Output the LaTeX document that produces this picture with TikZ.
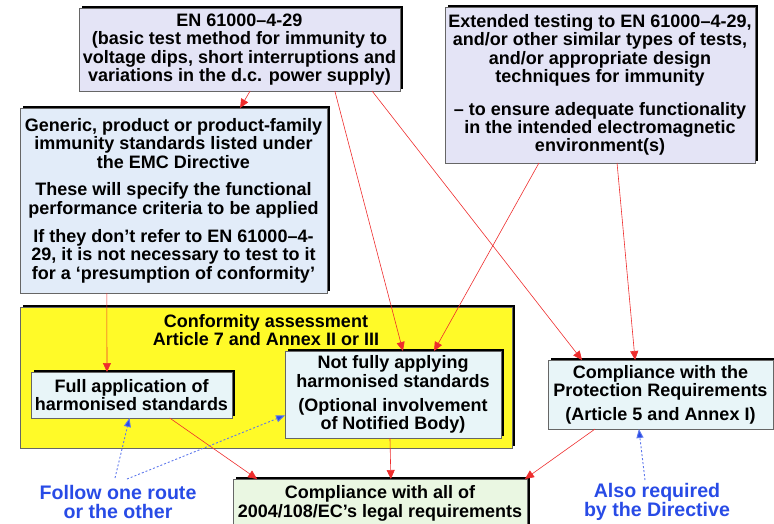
\documentclass[tikz,border=0pt]{standalone}
\usepackage{fontspec}
\setmainfont{Liberation Sans}
\usetikzlibrary{arrows.meta,shadows,calc}

\definecolor{lavbox}{RGB}{228,228,246}
\definecolor{bluebox}{RGB}{226,236,249}
\definecolor{cyanbox}{RGB}{232,245,248}
\definecolor{greenbox}{RGB}{234,247,226}
\definecolor{confyel}{RGB}{255,250,40}
\definecolor{redline}{RGB}{238,45,45}
\definecolor{blueline}{RGB}{40,75,230}

\begin{document}
\begin{tikzpicture}
  [x=1pt,y=-1pt,
   every node/.style={font=\bfseries\fontsize{18}{18.4}\selectfont,align=center,inner sep=0pt,outer sep=0pt},
   box/.style={draw=black!60,line width=.6pt,
     drop shadow={shadow xshift=2.5pt,shadow yshift=2.5pt,fill=black,opacity=1}},
   note/.style={text=blueline,font=\bfseries\fontsize{19.6}{19}\selectfont},
   redarr/.style={draw=redline,line width=.6pt,-{Triangle[length=9pt,width=8pt]}},
   bluearr/.style={draw=blueline!75,line width=.9pt,dash pattern=on 2pt off 2pt,
     -{Triangle[length=9pt,width=7pt,fill=blueline]}}]
  \useasboundingbox (0,0) rectangle (774,523);
  \clip (0,0) rectangle (774,523);

  \node (en) [box,fill=lavbox,minimum width=321pt,minimum height=83pt] at (239.5,49.5)
    {EN 61000\textendash4-29\\(basic test method for immunity to\\voltage dips, short interruptions and\\variations in the d.c. power supply)};
  \node (ext) [box,fill=lavbox,minimum width=310pt,minimum height=156pt] at (600,85)
    {Extended testing to EN 61000\textendash4-29,\\and/or other similar types of tests,\\and/or appropriate design\\techniques for immunity\\[14pt]\textendash{} to ensure adequate functionality\\in the intended electromagnetic\\environment(s)};
  \node (gen) [box,fill=bluebox,minimum width=307pt,minimum height=185pt] at (173.5,200.5)
    {Generic, product or product-family\\immunity standards listed under\\the EMC Directive\\[9.5pt]These will specify the functional\\performance criteria to be applied\\[9.5pt]If they don’t refer to EN 61000\textendash4-\\29, it is not necessary to test to it\\for a ‘presumption of conformity’};

  \node (ca) [box,fill=confyel,minimum width=492pt,minimum height=141pt] at (266,377.5) {};
  \node (catitle) at (266,330) {Conformity assessment\\Article 7 and Annex II or III};
  \node (full) [box,fill=cyanbox,minimum width=201pt,minimum height=46pt] at (131.5,395)
    {Full application of\\harmonised standards};
  \node (notf) [box,fill=cyanbox,minimum width=216pt,minimum height=87pt] at (393,394.5)
    {Not fully applying\\harmonised standards\\[5.5pt](Optional involvement\\of Notified Body)};
  \node (prot) [box,fill=cyanbox,minimum width=225pt,minimum height=69pt] at (660.5,394.5)
    {Compliance with the\\Protection Requirements\\[5.5pt](Article 5 and Annex I)};
  \node (legal) [box,fill=greenbox,minimum width=294pt,minimum height=49pt] at (380,503.5)
    {Compliance with all of\\2004/108/EC’s legal requirements};

  \node (route) [note] at (118,502) {Follow one route\\or the other};
  \node (also) [note] at (657,502) {Also required\\by the Directive};

  \foreach \a/\p/\b/\q in
  {en/.533/gen/.717, en/.797/notf/.546, en/.913/prot/.151,
   ext/.303/notf/.69, ext/.555/prot/.387, gen/.283/full/.378,
   full/.69/legal/.082, notf/.486/legal/.537, prot/.209/legal/.993}
    \draw[redarr] ($(\a.south west)!\p!(\a.south east)$) -- ($(\b.north west)!\q!(\b.north east)$);

  \coordinate (r1) at (115,478);
  \coordinate (r2) at (127,479);
  \coordinate (d1) at (645,480);
  \draw[bluearr] (r1) -- ($(full.south west)!.49!(full.south east)$);
  \draw[bluearr] (r2) -- ($(notf.north west)!.74!(notf.south west)$);
  \draw[bluearr] (d1) -- ($(prot.south west)!.404!(prot.south east)$);
\end{tikzpicture}
\end{document}
